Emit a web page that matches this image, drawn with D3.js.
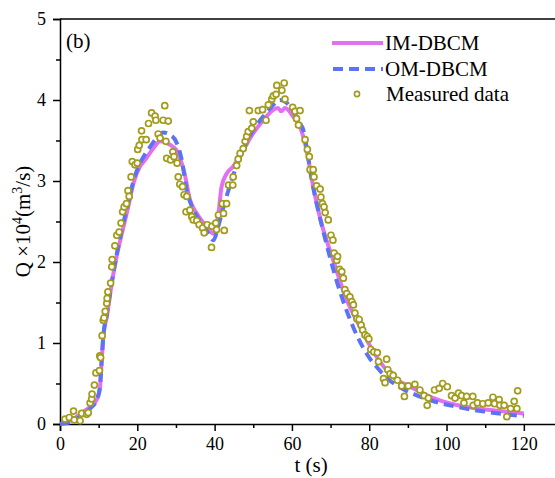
<!DOCTYPE html>
<html>
<head>
<meta charset="utf-8">
<script src="https://cdn.jsdelivr.net/npm/d3@7"></script>
<style>
  svg text, svg tspan { font-family: "Liberation Serif" !important; }
</style>
</head>
<body style="margin:0">
<svg id="chart" width="555" height="478" style="font-family: 'Liberation Serif'"></svg>
<script>
// ---- data ----
const seriesNames = ["IM-DBCM", "OM-DBCM", "Measured data"];
const xTickValues = [0, 20, 40, 60, 80, 100, 120];
const yTickValues = [0, 1, 2, 3, 4, 5];

const imT = [0, 3, 6, 8, 9.5, 10.3, 10.8, 11.2, 12.1, 13.4, 14.7, 16, 17.5, 19, 20.7, 22, 24.1, 25.9, 27.5, 29.3, 30.5, 31.2, 32.2, 33.6, 35.4, 37.9, 39.7, 41, 41.8, 43.1, 44.8, 47.4, 50, 52.6, 55.2, 56.4, 57.2, 58.2, 60.4, 62.1, 63.8, 65.5, 67.3, 70.7, 74.2, 77.6, 81.9, 86.2, 90.6, 96.6, 105.2, 112, 120];
const imQ = [0, 0.05, 0.15, 0.22, 0.3, 0.42, 0.79, 1.08, 1.32, 1.74, 2.08, 2.35, 2.65, 2.97, 3.18, 3.26, 3.40, 3.49, 3.47, 3.42, 3.35, 3.26, 3.1, 2.77, 2.6, 2.44, 2.35, 2.6, 2.93, 3.09, 3.18, 3.38, 3.59, 3.75, 3.88, 3.9, 3.86, 3.9, 3.79, 3.67, 3.38, 2.93, 2.54, 2.02, 1.53, 1.2, 0.83, 0.58, 0.46, 0.32, 0.21, 0.17, 0.13];

const omT = [0, 3, 6, 8, 9.5, 10.3, 10.8, 11.2, 12.1, 13.4, 14.7, 16, 17.5, 19, 20.5, 21.6, 23, 24.5, 26.7, 28.5, 30.2, 31.5, 32.8, 34, 36, 38, 39.7, 41, 42.3, 43.8, 45.3, 47, 49, 51, 53, 55, 56.9, 58.5, 60.5, 62, 63, 63.8, 65, 66.5, 68, 70, 72, 74, 76, 78, 80, 82, 85, 88, 92, 96, 100.9, 105, 110.4, 115, 120];
const omQ = [0, 0.03, 0.12, 0.2, 0.3, 0.45, 0.8, 1.08, 1.35, 1.75, 2.1, 2.4, 2.7, 3.0, 3.2, 3.3, 3.4, 3.5, 3.6, 3.57, 3.47, 3.26, 2.88, 2.7, 2.52, 2.38, 2.27, 2.45, 2.68, 2.92, 3.14, 3.35, 3.55, 3.7, 3.82, 3.93, 4.0, 3.97, 3.85, 3.72, 3.62, 3.42, 3.05, 2.7, 2.4, 2.03, 1.7, 1.42, 1.18, 0.98, 0.82, 0.7, 0.55, 0.45, 0.36, 0.29, 0.23, 0.19, 0.15, 0.12, 0.1];

const measT = [1.3, 2.4, 3.5, 3.7, 5.2, 5.6, 6.9, 7.3, 7.8, 8.2, 8.3, 8.9, 9.3, 10.2, 10.3, 10.5, 10.9, 11.2, 11.4, 11.7, 12.1, 12.2, 12.4, 13.1, 13.4, 13.5, 14.2, 14.7, 15.3, 15.8, 16.2, 16.6, 17.2, 17.6, 17.9, 18.4, 18.7, 19.4, 20.0, 20.1, 20.5, 21.1, 21.2, 22.3, 22.9, 23.7, 24.6, 24.8, 25.4, 25.9, 26.7, 27.1, 27.4, 27.6, 28.0, 28.6, 29.2, 29.5, 30.3, 30.6, 31.0, 31.7, 32.1, 32.6, 32.8, 33.6, 34.1, 34.5, 35.4, 36.0, 36.9, 37.3, 38.1, 39.2, 39.3, 40.3, 40.5, 41.0, 42.0, 42.3, 42.5, 43.1, 43.6, 44.7, 44.8, 45.7, 46.1, 46.6, 47.4, 47.9, 48.3, 48.7, 49.0, 49.6, 50.0, 51.3, 52.4, 53.3, 53.9, 54.8, 55.2, 55.9, 56.1, 57.4, 58.0, 58.2, 60.2, 60.8, 61.2, 61.7, 62.1, 63.4, 64.0, 64.5, 64.7, 65.5, 65.7, 66.4, 67.3, 67.5, 67.9, 68.3, 68.6, 69.4, 70.1, 70.6, 70.9, 71.6, 71.8, 72.3, 72.9, 73.3, 73.7, 74.2, 75.0, 75.5, 75.9, 76.3, 76.8, 77.4, 77.9, 78.3, 78.9, 79.5, 79.9, 80.4, 81.2, 82.1, 82.4, 83.7, 84.1, 84.5, 84.8, 85.4, 86.2, 87.3, 88.4, 89.1, 90.1, 91.8, 93.1, 94.2, 95.0, 95.3, 96.9, 98.1, 99.0, 100.2, 101.3, 102.2, 103.1, 103.9, 104.5, 105.2, 106.8, 106.9, 108.0, 109.4, 110.8, 112.0, 112.4, 113.6, 113.8, 114.9, 115.6, 116.6, 117.5, 118.2, 118.4];
const measQ = [0.06, 0.08, 0.16, 0.05, 0.04, 0.13, 0.12, 0.14, 0.26, 0.31, 0.37, 0.48, 0.63, 0.66, 0.84, 0.82, 1.09, 1.28, 1.31, 1.39, 1.49, 1.55, 1.63, 1.74, 1.94, 2.03, 2.2, 2.33, 2.37, 2.48, 2.62, 2.68, 2.72, 2.88, 2.81, 3.05, 3.24, 3.2, 3.22, 3.39, 3.44, 3.62, 3.51, 3.51, 3.71, 3.84, 3.8, 3.75, 3.58, 3.53, 3.75, 3.93, 3.49, 3.28, 3.74, 3.26, 3.36, 3.3, 3.22, 3.05, 2.96, 2.93, 2.83, 2.62, 2.81, 2.64, 2.56, 2.52, 2.51, 2.46, 2.42, 2.36, 2.46, 2.18, 2.44, 2.48, 2.4, 2.58, 2.72, 2.6, 2.39, 2.72, 2.95, 2.95, 3.05, 3.19, 3.27, 3.34, 3.4, 3.49, 3.55, 3.61, 3.87, 3.65, 3.73, 3.87, 3.88, 3.75, 3.94, 4.01, 4.05, 4.07, 4.18, 4.12, 4.21, 4.01, 3.91, 3.86, 3.77, 3.69, 3.87, 3.51, 3.39, 3.3, 3.14, 3.14, 3.05, 2.94, 2.9, 2.8, 2.72, 2.68, 2.61, 2.52, 2.33, 2.27, 2.11, 2.02, 2.07, 1.91, 1.88, 1.8, 1.66, 1.61, 1.57, 1.51, 1.47, 1.37, 1.3, 1.29, 1.22, 1.16, 1.1, 1.08, 1.05, 0.92, 0.89, 0.88, 0.77, 0.56, 0.51, 0.8, 0.67, 0.62, 0.6, 0.54, 0.47, 0.34, 0.47, 0.49, 0.42, 0.35, 0.23, 0.32, 0.42, 0.44, 0.5, 0.46, 0.35, 0.32, 0.38, 0.35, 0.26, 0.34, 0.34, 0.23, 0.26, 0.25, 0.26, 0.33, 0.25, 0.3, 0.23, 0.23, 0.09, 0.19, 0.28, 0.19, 0.41];

// ---- layout ----
const svg = d3.select("#chart");
const x = d3.scaleLinear().domain([0, 130]).range([60, 562.5]);
const y = d3.scaleLinear().domain([0, 5]).range([424, 19]);

const colIM = "#E36FF2", colOM = "#5B73F4", colMeas = "#A29C1C";
const FONT = "Liberation Serif";

// frame top/right lines
svg.append("line").attr("x1", x(0)).attr("x2", x(130)).attr("y1", y(5)).attr("y2", y(5))
  .attr("stroke", "#000").attr("stroke-width", 1.5);
svg.append("line").attr("x1", x(130)).attr("x2", x(130)).attr("y1", y(5)).attr("y2", y(0))
  .attr("stroke", "#000").attr("stroke-width", 1.5);

// axes
const xAxis = svg.append("g").attr("transform", `translate(0,${y(0)})`)
  .call(d3.axisBottom(x).tickValues(xTickValues).tickSize(7).tickPadding(6).tickFormat(d3.format("d")));
const xMinor = svg.append("g").attr("transform", `translate(0,${y(0)})`)
  .call(d3.axisBottom(x).tickValues([10, 30, 50, 70, 90, 110, 130]).tickSize(4).tickFormat(""));
const yAxis = svg.append("g").attr("transform", `translate(${x(0)},0)`)
  .call(d3.axisLeft(y).tickValues(yTickValues).tickSize(7).tickPadding(7).tickFormat(d3.format("d")));
const yMinor = svg.append("g").attr("transform", `translate(${x(0)},0)`)
  .call(d3.axisLeft(y).tickValues([0.5, 1.5, 2.5, 3.5, 4.5]).tickSize(4).tickFormat(""));

[xAxis, xMinor, yAxis, yMinor].forEach(g => {
  g.attr("font-family", FONT).attr("font-size", 18);
  g.selectAll("path").attr("stroke", "#000").attr("stroke-width", 1.5);
  g.selectAll("line").attr("stroke", "#000").attr("stroke-width", 1.5);
  g.selectAll("text").style("font-family", FONT, "important").style("font-size", "18px").attr("fill", "#000");
});
xMinor.select("path").remove();
yMinor.select("path").remove();

// lines
const lineGen = d3.line().x(d => x(d[0])).y(d => y(d[1])).curve(d3.curveMonotoneX);
const imData = imT.map((t, i) => [t, imQ[i]]);
const omData = omT.map((t, i) => [t, omQ[i]]);
svg.append("path").datum(imData).attr("d", lineGen)
  .attr("fill", "none").attr("stroke", colIM).attr("stroke-width", 4);
svg.append("path").datum(omData).attr("d", lineGen)
  .attr("fill", "none").attr("stroke", colOM).attr("stroke-width", 4)
  .attr("stroke-dasharray", "10,6");

// measured points
const measData = measT.map((t, i) => [t, measQ[i]]);
svg.append("g").selectAll("circle").data(measData).join("circle")
  .attr("cx", d => x(d[0])).attr("cy", d => y(d[1])).attr("r", 3)
  .attr("fill", "#fff").attr("stroke", colMeas).attr("stroke-width", 1.7);

function txt(xp, yp, size, s, anchor) {
  return svg.append("text").attr("x", xp).attr("y", yp)
    .attr("text-anchor", anchor || "start")
    .attr("font-family", FONT)
    .style("font-family", FONT, "important").style("font-size", size + "px").attr("fill", "#000").text(s);
}

// panel label
txt(66, 48, 21, "(b)");

// legend
svg.append("line").attr("x1", 332).attr("x2", 383).attr("y1", 43).attr("y2", 43)
  .attr("stroke", colIM).attr("stroke-width", 4);
txt(385, 50, 21, seriesNames[0]);
svg.append("line").attr("x1", 333).attr("x2", 383).attr("y1", 69).attr("y2", 69)
  .attr("stroke", colOM).attr("stroke-width", 4).attr("stroke-dasharray", "10,6");
txt(385, 76, 21, seriesNames[1]);
svg.append("circle").attr("cx", 357).attr("cy", 94).attr("r", 2.6)
  .attr("fill", "#fff").attr("stroke", colMeas).attr("stroke-width", 1.6);
txt(386, 101, 21, seriesNames[2]);

// axis titles
txt(311, 472, 21, "t (s)", "middle");
const yl = svg.append("text").attr("transform", `translate(30,${(y(0) + y(5)) / 2}) rotate(-90)`)
  .attr("text-anchor", "middle").attr("font-family", FONT)
  .style("font-family", FONT, "important").style("font-size", "21px").attr("fill", "#000");
yl.append("tspan").text("Q \u00D710");
yl.append("tspan").attr("dy", -8).style("font-size", "14px").text("4");
yl.append("tspan").attr("dy", 8).text("(m");
yl.append("tspan").attr("dy", -8).style("font-size", "14px").text("3");
yl.append("tspan").attr("dy", 8).text("/s)");
</script>
</body>
</html>
